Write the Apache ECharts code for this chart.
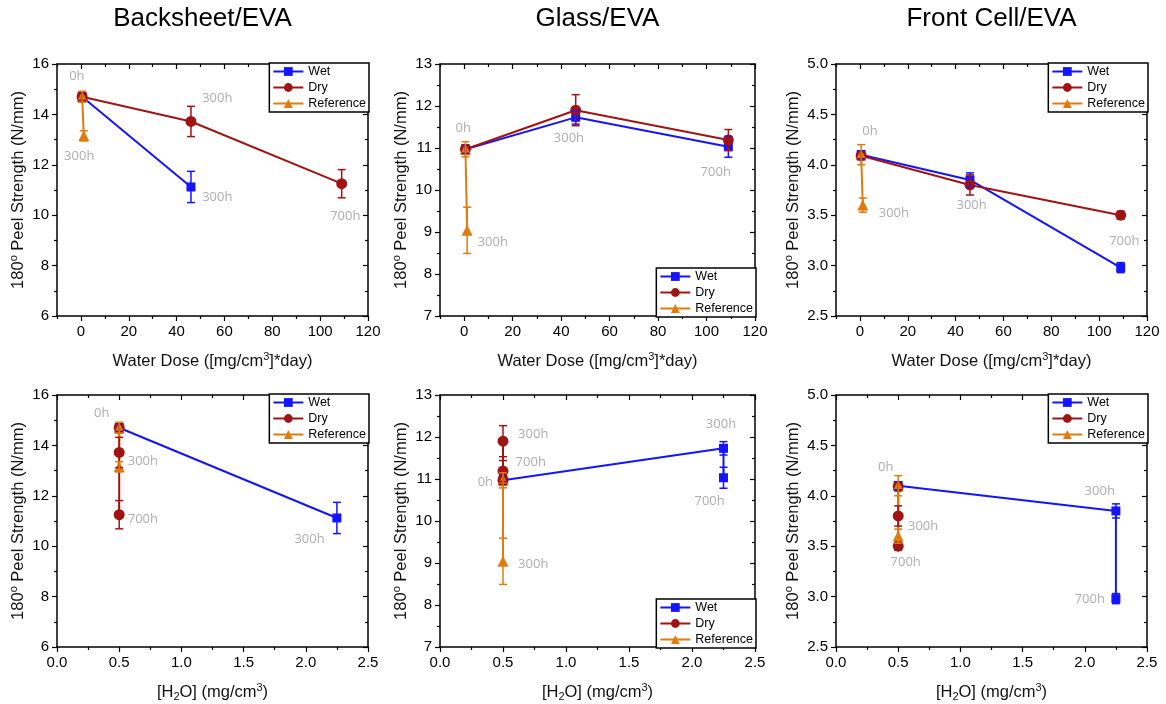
<!DOCTYPE html>
<html><head><meta charset="utf-8">
<script src="https://cdn.jsdelivr.net/npm/echarts@6/dist/echarts.min.js"></script>
<style>html,body{margin:0;padding:0;background:#fff}#c{width:1166px;height:704px}</style>
</head><body><div id="c"></div>
<script>
// ---------- data ----------
const MATERIALS = ['Backsheet/EVA', 'Glass/EVA', 'Front Cell/EVA'];
const SERIES_NAMES = ['Wet', 'Dry', 'Reference'];

// Backsheet/EVA
const BS_WET_DOSE = [0.5, 46];
const BS_WET_CONC = [0.5, 2.25];
const BS_WET_PEEL = [14.7, 11.12];
const BS_WET_ERR  = [0.15, 0.62];
const BS_DRY_DOSE = [0.5, 46, 109];
const BS_DRY_CONC = [0.5, 0.5, 0.5];
const BS_DRY_PEEL = [14.7, 13.72, 11.25];
const BS_DRY_ERR  = [0.15, 0.6, 0.56];
const BS_REF_DOSE = [0.5, 1.2];
const BS_REF_CONC = [0.5, 0.5];
const BS_REF_PEEL = [14.7, 13.15];
const BS_REF_ERR  = [0.22, 0.2];

// Glass/EVA
const GL_WET_DOSE = [0.5, 46, 109];
const GL_WET_CONC = [0.5, 2.25, 2.25];
const GL_WET_PEEL = [10.97, 11.73, 11.03];
const GL_WET_ERR  = [0.1, 0.16, 0.25];
const GL_DRY_DOSE = [0.5, 46, 109];
const GL_DRY_CONC = [0.5, 0.5, 0.5];
const GL_DRY_PEEL = [10.97, 11.9, 11.19];
const GL_DRY_ERR  = [0.1, 0.37, 0.25];
const GL_REF_DOSE = [0.5, 1.2];
const GL_REF_CONC = [0.5, 0.5];
const GL_REF_PEEL = [10.97, 9.04];
const GL_REF_ERR  = [0.18, 0.55];

// Front Cell/EVA
const FC_WET_DOSE = [0.5, 46, 109];
const FC_WET_CONC = [0.5, 2.25, 2.25];
const FC_WET_PEEL = [4.10, 3.85, 2.98];
const FC_WET_ERR  = [0.04, 0.07, 0.05];
const FC_DRY_DOSE = [0.5, 46, 109];
const FC_DRY_CONC = [0.5, 0.5, 0.5];
const FC_DRY_PEEL = [4.09, 3.80, 3.50];
const FC_DRY_ERR  = [0.04, 0.1, 0.04];
const FC_REF_DOSE = [0.5, 1.2];
const FC_REF_CONC = [0.5, 0.5];
const FC_REF_PEEL = [4.10, 3.60];
const FC_REF_ERR  = [0.1, 0.07];

// axis ranges / ticks
const Y_MIN  = [6, 7, 2.5];
const Y_MAX  = [16, 13, 5];
const Y_STEP = [2, 1, 0.5];
const DOSE_MIN = -10, DOSE_MAX = 120;
const DOSE_TICKS = [0, 20, 40, 60, 80, 100, 120];
const DOSE_MINOR_TICKS = [-10, 10, 30, 50, 70, 90, 110];
const CONC_MIN = 0, CONC_MAX = 2.5, CONC_STEP = 0.5;

// time annotations [x, y, text] in data units
const BS_DOSE_NOTES = [[-1.7, 15.5, '0h'], [57, 14.64, '300h'], [-0.7, 12.33, '300h'], [57, 10.7, '300h'], [110.5, 9.97, '700h']];
const GL_DOSE_NOTES = [[-0.4, 11.47, '0h'], [43.2, 11.23, '300h'], [103.8, 10.43, '700h'], [11.8, 8.76, '300h']];
const FC_DOSE_NOTES = [[4.2, 4.33, '0h'], [14.2, 3.52, '300h'], [46.7, 3.60, '300h'], [110.5, 3.24, '700h']];
const BS_CONC_NOTES = [[0.36, 15.27, '0h'], [0.69, 13.38, '300h'], [0.69, 11.06, '700h'], [2.03, 10.26, '300h']];
const GL_CONC_NOTES = [[0.74, 12.07, '300h'], [0.72, 11.39, '700h'], [0.36, 10.93, '0h'], [0.74, 8.97, '300h'], [2.23, 12.3, '300h'], [2.14, 10.48, '700h']];
const FC_CONC_NOTES = [[0.40, 4.28, '0h'], [0.70, 3.70, '300h'], [0.56, 3.34, '700h'], [2.12, 4.04, '300h'], [2.04, 2.97, '700h']];

// ---------- layout / style ----------
const COLORS = ['#1414ff', '#a01414', '#e07b10'];
const SYMBOLS = ['rect', 'circle', 'triangle'];
const FONT = 'Liberation Sans, Arial, sans-serif';
const GRID_LEFT = [57, 440, 836];
const GRID_WIDTH = [311, 315, 311];
const GRID_TOP = [64, 395];
const GRID_H = 252;

const PANEL_DATA = [
  {x: [BS_WET_DOSE, BS_DRY_DOSE, BS_REF_DOSE], c: [BS_WET_CONC, BS_DRY_CONC, BS_REF_CONC], y: [BS_WET_PEEL, BS_DRY_PEEL, BS_REF_PEEL], e: [BS_WET_ERR, BS_DRY_ERR, BS_REF_ERR]},
  {x: [GL_WET_DOSE, GL_DRY_DOSE, GL_REF_DOSE], c: [GL_WET_CONC, GL_DRY_CONC, GL_REF_CONC], y: [GL_WET_PEEL, GL_DRY_PEEL, GL_REF_PEEL], e: [GL_WET_ERR, GL_DRY_ERR, GL_REF_ERR]},
  {x: [FC_WET_DOSE, FC_DRY_DOSE, FC_REF_DOSE], c: [FC_WET_CONC, FC_DRY_CONC, FC_REF_CONC], y: [FC_WET_PEEL, FC_DRY_PEEL, FC_REF_PEEL], e: [FC_WET_ERR, FC_DRY_ERR, FC_REF_ERR]}
];
const NOTES = [[BS_DOSE_NOTES, GL_DOSE_NOTES, FC_DOSE_NOTES], [BS_CONC_NOTES, GL_CONC_NOTES, FC_CONC_NOTES]];
const LEGEND_AT_BOTTOM = [[false, true, false], [false, true, false]];

const axisLine = {show: true, onZero: false, lineStyle: {color: '#000', width: 1.5}};
const tickStyle = {color: '#000', width: 1.2};
const labelStyle = {fontSize: 15, color: '#000', fontFamily: FONT};
const nameStyle = {
  fontSize: 16.5, color: '#111', fontFamily: FONT, lineHeight: 20,
  rich: {
    sup: {fontSize: 11, fontFamily: FONT, color: '#111', verticalAlign: 'top', lineHeight: 20},
    sub: {fontSize: 11, fontFamily: FONT, color: '#111', verticalAlign: 'bottom', lineHeight: 20}
  }
};

const grids = [], xAxes = [], yAxes = [], lineSeries = [], errSeries = [], noteSeries = [], legends = [], graphics = [];

function errRender(params, api) {
  const x = api.value(0), y = api.value(1), e = api.value(2);
  const t = api.coord([x, y + e]), b = api.coord([x, y - e]);
  const hw = 4;
  const style = {stroke: api.visual('color'), lineWidth: 1.5};
  return {type: 'group', children: [
    {type: 'line', shape: {x1: t[0], y1: t[1], x2: b[0], y2: b[1]}, style: style},
    {type: 'line', shape: {x1: t[0] - hw, y1: t[1], x2: t[0] + hw, y2: t[1]}, style: style},
    {type: 'line', shape: {x1: b[0] - hw, y1: b[1], x2: b[0] + hw, y2: b[1]}, style: style}
  ]};
}

for (let r = 0; r < 2; r++) {
  for (let c = 0; c < 3; c++) {
    const gi = grids.length;
    grids.push({left: GRID_LEFT[c], top: GRID_TOP[r], width: GRID_WIDTH[c], height: GRID_H, containLabel: false});
    const xMainIndex = xAxes.length;
    if (r === 0) {
      xAxes.push({type: 'value', gridIndex: gi, position: 'bottom', min: DOSE_MIN, max: DOSE_MAX,
        axisLine: axisLine, splitLine: {show: false},
        axisTick: {show: true, length: 5, customValues: DOSE_TICKS, lineStyle: tickStyle},
        axisLabel: {customValues: DOSE_TICKS, margin: 8, ...labelStyle},
        name: 'Water Dose ([mg/cm{sup|3}]*day)', nameLocation: 'middle', nameGap: 35, nameTextStyle: nameStyle});
      xAxes.push({type: 'value', gridIndex: gi, position: 'bottom', min: DOSE_MIN, max: DOSE_MAX,
        axisLine: {show: false}, splitLine: {show: false}, axisLabel: {show: false},
        axisTick: {show: true, length: 3, customValues: DOSE_MINOR_TICKS, lineStyle: tickStyle}});
      xAxes.push({type: 'value', gridIndex: gi, position: 'top', min: DOSE_MIN, max: DOSE_MAX,
        axisLine: axisLine, splitLine: {show: false}, axisLabel: {show: false},
        axisTick: {show: true, inside: true, length: 5, customValues: DOSE_TICKS, lineStyle: tickStyle}});
      xAxes.push({type: 'value', gridIndex: gi, position: 'top', min: DOSE_MIN, max: DOSE_MAX,
        axisLine: {show: false}, splitLine: {show: false}, axisLabel: {show: false},
        axisTick: {show: true, inside: true, length: 3, customValues: DOSE_MINOR_TICKS, lineStyle: tickStyle}});
    } else {
      xAxes.push({type: 'value', gridIndex: gi, position: 'bottom', min: CONC_MIN, max: CONC_MAX, interval: CONC_STEP,
        axisLine: axisLine, splitLine: {show: false},
        axisTick: {show: true, length: 5, lineStyle: tickStyle},
        minorTick: {show: true, splitNumber: 2, length: 3, lineStyle: tickStyle},
        axisLabel: {margin: 8, formatter: v => v.toFixed(1), ...labelStyle},
        name: '[H{sub|2}O] (mg/cm{sup|3})', nameLocation: 'middle', nameGap: 35, nameTextStyle: nameStyle});
      xAxes.push({type: 'value', gridIndex: gi, position: 'top', min: CONC_MIN, max: CONC_MAX, interval: CONC_STEP,
        axisLine: axisLine, splitLine: {show: false}, axisLabel: {show: false},
        axisTick: {show: true, inside: true, length: 5, lineStyle: tickStyle},
        minorTick: {show: true, splitNumber: 2, length: 3, lineStyle: tickStyle}});
    }
    const yMainIndex = yAxes.length;
    yAxes.push({type: 'value', gridIndex: gi, position: 'left', min: Y_MIN[c], max: Y_MAX[c], interval: Y_STEP[c],
      axisLine: axisLine, splitLine: {show: false},
      axisTick: {show: true, length: 5, lineStyle: tickStyle},
      minorTick: {show: true, splitNumber: 2, length: 3, lineStyle: tickStyle},
      axisLabel: {margin: 8, formatter: c === 2 ? (v => v.toFixed(1)) : (v => String(v)), ...labelStyle},
      name: '180{sup|o} Peel Strength (N/mm)', nameLocation: 'middle', nameGap: 23, nameTextStyle: nameStyle});
    yAxes.push({type: 'value', gridIndex: gi, position: 'right', min: Y_MIN[c], max: Y_MAX[c], interval: Y_STEP[c],
      axisLine: axisLine, splitLine: {show: false}, axisLabel: {show: false},
      axisTick: {show: true, inside: true, length: 5, lineStyle: tickStyle},
      minorTick: {show: true, splitNumber: 2, length: 3, lineStyle: tickStyle}});

    const pd = PANEL_DATA[c];
    for (let s = 0; s < 3; s++) {
      const xs = r === 0 ? pd.x[s] : pd.c[s];
      const ys = pd.y[s], es = pd.e[s];
      lineSeries.push({type: 'line', name: SERIES_NAMES[s], xAxisIndex: xMainIndex, yAxisIndex: yMainIndex,
        data: xs.map((x, i) => [x, ys[i]]), symbol: SYMBOLS[s], symbolSize: s === 0 ? 9 : 11, showSymbol: true,
        color: COLORS[s], lineStyle: {width: 2, color: COLORS[s]}, itemStyle: {color: COLORS[s]}, animation: false, z: 3});
      errSeries.push({type: 'custom', name: SERIES_NAMES[s], xAxisIndex: xMainIndex, yAxisIndex: yMainIndex,
        data: xs.map((x, i) => [x, ys[i], es[i]]), renderItem: errRender, encode: {x: 0, y: 1},
        itemStyle: {color: COLORS[s]}, animation: false, z: 4, silent: true});
    }
    noteSeries.push({type: 'scatter', xAxisIndex: xMainIndex, yAxisIndex: yMainIndex, symbolSize: 1,
      itemStyle: {color: 'rgba(0,0,0,0)'}, silent: true, animation: false, z: 5,
      data: NOTES[r][c].map(n => ({value: [n[0], n[1]], name: n[2]})),
      label: {show: true, position: 'inside', formatter: '{b}', color: '#999999', fontSize: 13, fontFamily: 'Open Sans, sans-serif'}});

    const rightPx = 1166 - (GRID_LEFT[c] + GRID_WIDTH[c]);
    const lg = {data: SERIES_NAMES, orient: 'vertical', right: rightPx - 1, backgroundColor: '#fff',
      borderColor: '#000', borderWidth: 1.5, borderRadius: 0, padding: [2, 3, 2, 3], itemGap: 3,
      itemWidth: 30, itemHeight: 11, textStyle: {fontSize: 12.5, color: '#000', fontFamily: FONT}, z: 10};
    if (LEGEND_AT_BOTTOM[r][c]) lg.bottom = 704 - (GRID_TOP[r] + GRID_H) - 1; else lg.top = GRID_TOP[r] - 1;
    legends.push(lg);
  }
}

for (let c = 0; c < 3; c++) {
  graphics.push({type: 'text', x: GRID_LEFT[c] + GRID_WIDTH[c] / 2 - (c === 0 ? 10 : 0), y: 6,
    style: {text: MATERIALS[c], textAlign: 'center', textVerticalAlign: 'top', fontSize: 26, fontFamily: FONT, fill: '#000'}});
}

const chart = echarts.init(document.getElementById('c'), null, {renderer: 'canvas'});
chart.setOption({
  backgroundColor: '#fff',
  animation: false,
  grid: grids, xAxis: xAxes, yAxis: yAxes, legend: legends, graphic: graphics,
  series: [...lineSeries, ...errSeries, ...noteSeries]
});
</script></body></html>
